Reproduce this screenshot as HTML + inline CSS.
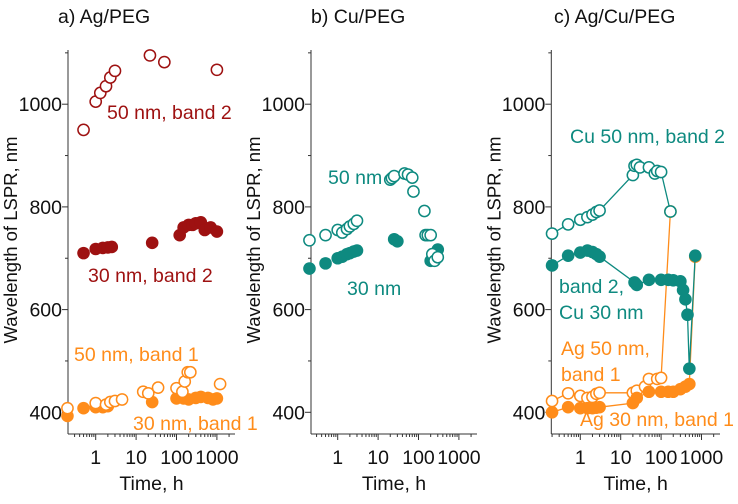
<!DOCTYPE html>
<html><head><meta charset="utf-8"><style>
body{margin:0;background:#fff}
svg{display:block;font-family:"Liberation Sans",Arial,sans-serif}
</style></head><body>
<svg id="fig" width="738" height="504" viewBox="0 0 738 504"></svg>
<script>
// ---- data ----
const yTicks=[400,600,800,1000];
const xTickLabels=["1","10","100","1000"];
const xTickVals=[1,10,100,1000];
// Panel a
const aB2_50_t=[0.5,1,1.3,1.8,2.3,3,22,50,1000];
const aB2_50_v=[950,1005,1022,1035,1052,1065,1095,1082,1067];
const aB2_30_t=[0.5,1,1.5,2,2.5,25,120,150,200,250,300,400,500,700,1000];
const aB2_30_v=[710,718,720,721,722,730,745,760,765,765,768,770,755,760,752];
const aB1_50_t=[0.2,1,1.8,2.3,3,4.5,15,20,35,100,140,160,190,220,1200];
const aB1_50_v=[408,418,415,420,422,425,440,437,448,447,440,460,478,478,455];
const aB1_30_t=[0.2,0.5,1,1.5,2,25,100,150,200,300,400,600,800,1000];
const aB1_30_v=[393,408,410,410,412,420,427,427,425,428,430,428,425,427];
// Panel b
const b50_t=[0.2,0.5,1,1.3,1.7,2,2.5,3,20,22,25,45,55,70,75,140,150,170,200,220,250,300];
const b50_v=[735,745,755,750,757,762,767,773,853,856,860,865,863,857,830,792,745,745,745,708,695,702];
const b30_t=[0.2,0.5,1,1.3,1.7,2,2.5,3,25,30,200,250,300];
const b30_v=[680,690,700,703,708,710,713,715,737,733,695,697,717];
// Panel c
const cAg50_t=[0.2,0.5,1,1.5,2,2.5,3,20,25,40,50,80,100,170];
const cAg50_v=[422,437,432,428,430,436,438,438,442,450,465,465,467,791];
const cAg30_t=[0.2,0.5,1,1.5,2,2.5,3,20,25,50,100,150,200,300,400,500,700];
const cAg30_v=[400,410,408,408,408,409,410,418,428,440,440,440,440,445,450,455,703];
const cCu50_t=[0.2,0.5,1,1.5,2,2.5,3,20,22,25,30,50,70,80,100,170];
const cCu50_v=[748,766,775,780,785,790,793,862,880,882,877,877,865,870,868,791];
const cCu30_t=[0.2,0.5,1,1.5,2,2.5,3,22,25,50,100,150,200,300,350,400,450,500,700];
const cCu30_v=[686,705,711,715,712,708,703,653,648,658,658,658,657,655,638,620,590,485,705];

const RED="#9e1111",ORG="#ff8c1a",TEAL="#0e8a80";
const FS=19.5;
const NS="http://www.w3.org/2000/svg";
const svg=document.getElementById('fig');
function el(tag,attrs,parent){const e=document.createElementNS(NS,tag);for(const k in attrs)e.setAttribute(k,attrs[k]);(parent||svg).appendChild(e);return e;}

const Y0=434, Ytop=50;
function yS(v){return 412.3-(v-400)*(102.7/200);}

function panel(name,ax,x1,xRight,title,titleX){
  const g=el('g',{});
  
  
  const dec=40.4;
  const xS=t=>x1+Math.log10(t)*dec;
  const ya=el('line',{x1:ax,y1:Ytop,x2:ax,y2:Y0,stroke:'#333','stroke-width':1},g);
  
  for(let v=400;v<=1100;v+=100){
    const major=yTicks.includes(v);
    el('line',{x1:ax-(major?6:3),y1:yS(v),x2:ax,y2:yS(v),stroke:'#333','stroke-width':1},g);
  }
  yTicks.forEach(v=>{const t=el('text',{x:ax-6,y:yS(v)+7,'text-anchor':'end','font-size':FS,fill:'#111'},g);t.textContent=v;
    });
  const xa=el('line',{x1:ax,y1:Y0,x2:xRight,y2:Y0,stroke:'#333','stroke-width':1},g);
  
  for(let d=-1;d<=3;d++)for(let m=1;m<=9;m++){
    const t=m*Math.pow(10,d);const x=xS(t);if(x<ax||x>xRight)continue;
    el('line',{x1:x,y1:Y0,x2:x,y2:Y0+(m==1?6:3),stroke:'#333','stroke-width':1},g);
  }
  xTickVals.forEach((v,i)=>{const t=el('text',{x:xS(v),y:464,'text-anchor':'middle','font-size':FS,fill:'#111'},g);t.textContent=xTickLabels[i];
    });
  const xt=el('text',{x:(ax+xRight)/2,y:490,'text-anchor':'middle','font-size':FS,fill:'#111'},g);xt.textContent='Time, h';
  
  const yt=el('text',{x:0,y:0,'text-anchor':'middle','font-size':18.5,fill:'#111',transform:`translate(${ax-51},240) rotate(-90)`},g);yt.textContent='Wavelength of LSPR, nm';
  
  const tt=el('text',{x:titleX,y:23,'font-size':FS,fill:'#111'},g);tt.textContent=title;
  
  return {g,xS};
}
function series(p,name,ts,vs,color,filled,line){
  const g=el('g',{},p.g);
  
  
  if(line){
    const pts=ts.map((t,i)=>p.xS(t).toFixed(1)+','+yS(vs[i]).toFixed(1)).join(' ');
    el('polyline',{points:pts,fill:'none',stroke:color,'stroke-width':1.3},g);
  }
  ts.forEach((t,i)=>{
    const c=el('circle',{cx:p.xS(t),cy:yS(vs[i]),r:filled?6.3:5.6,fill:filled?color:'#fff',stroke:color,'stroke-width':filled?0:1.5},g);
    
    
  });
}
function label(p,txt,x,y,color){const t=el('text',{x:x,y:y,'font-size':FS,fill:color},p.g);t.textContent=txt;
  }

const A=panel('panel-a',68,95.7,235,'a) Ag/PEG',58);
series(A,'ag50-band2',aB2_50_t,aB2_50_v,RED,false);
series(A,'ag30-band2',aB2_30_t,aB2_30_v,RED,true);
series(A,'ag30-band1',aB1_30_t,aB1_30_v,ORG,true);
series(A,'ag50-band1',aB1_50_t,aB1_50_v,ORG,false);
label(A,'50 nm, band 2',107,119,RED);
label(A,'30 nm, band 2',88,282,RED);
label(A,'50 nm, band 1',74,361,ORG);
label(A,'30 nm, band 1',133,430,ORG);

const B=panel('panel-b',311,337.7,477,'b) Cu/PEG',311);
series(B,'cu30',b30_t,b30_v,TEAL,true);
series(B,'cu50',b50_t,b50_v,TEAL,false);
label(B,'50 nm',328,184,TEAL);
label(B,'30 nm',347,295,TEAL);

const C=panel('panel-c',551.3,580.3,720,'c) Ag/Cu/PEG',554);
series(C,'ag50-band1',cAg50_t,cAg50_v,ORG,false,true);
series(C,'ag30-band1',cAg30_t,cAg30_v,ORG,true,true);
series(C,'cu50-band2',cCu50_t,cCu50_v,TEAL,false,true);
series(C,'cu30-band2',cCu30_t,cCu30_v,TEAL,true,true);
label(C,'Cu 50 nm, band 2',570,143,TEAL);
label(C,'band 2,',559,293,TEAL);
label(C,'Cu 30 nm',559,319,TEAL);
label(C,'Ag 50 nm,',561,355,ORG);
label(C,'band 1',561,381,ORG);
label(C,'Ag 30 nm, band 1',580,426,ORG);
</script>
</body></html>
